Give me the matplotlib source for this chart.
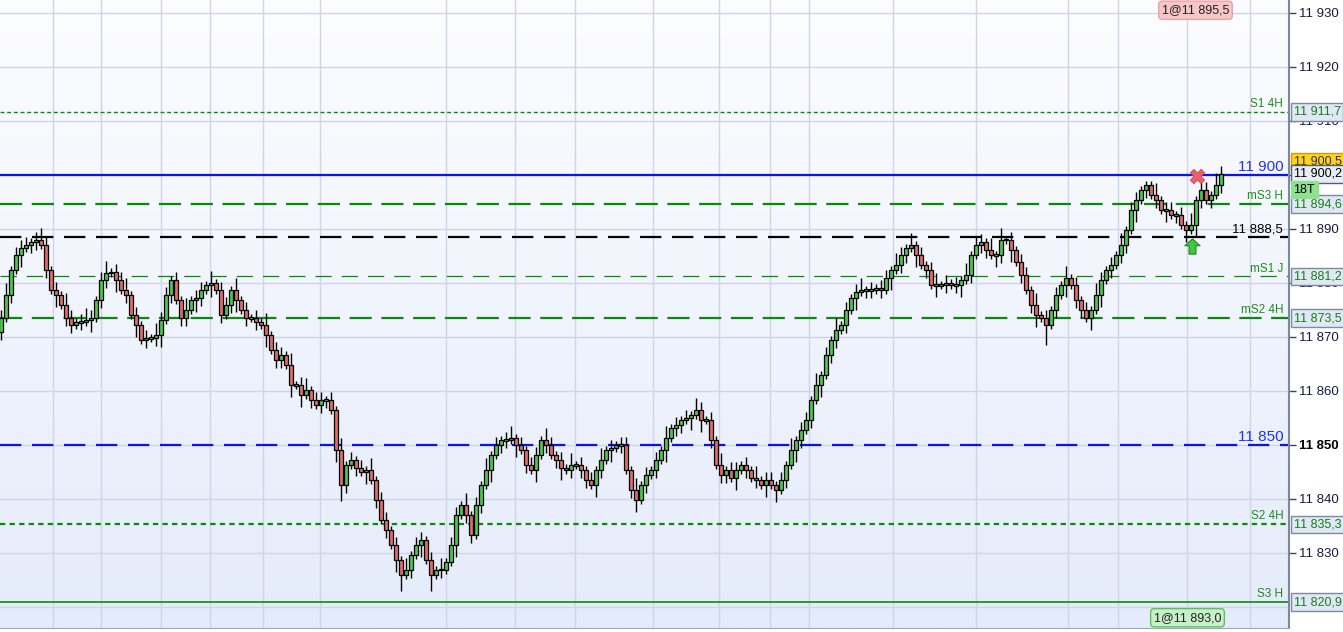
import numpy as np
import matplotlib
matplotlib.use("Agg")
import matplotlib.pyplot as plt
from matplotlib.path import Path
from matplotlib.transforms import blended_transform_factory
from matplotlib.colors import LinearSegmentedColormap

plt.rcParams['font.family'] = ['Liberation Sans', 'DejaVu Sans']

# closing prices, one per candle (open = previous close)
close = [11873.5, 11877.8, 11882.4, 11885.2, 11886.5, 11887.0, 11887.6, 11888.0, 11887.0, 11882.4,
         11878.7, 11877.8, 11875.9, 11873.5, 11872.2, 11872.8, 11872.8, 11873.2, 11873.5, 11876.9,
         11880.6, 11881.9, 11882.0, 11880.6, 11878.7, 11877.8, 11874.1, 11872.2, 11869.4, 11869.8,
         11869.8, 11870.4, 11873.2, 11877.8, 11880.6, 11876.9, 11873.5, 11875.0, 11876.9, 11877.2,
         11878.7, 11879.6, 11880.0, 11878.7, 11874.1, 11875.9, 11878.7, 11876.9, 11875.0, 11873.5,
         11873.5, 11872.8, 11872.2, 11870.4, 11867.6, 11865.7, 11866.7, 11864.8, 11861.1, 11861.1,
         11859.3, 11860.2, 11858.3, 11857.4, 11858.3, 11858.3, 11856.5, 11849.1, 11842.6, 11846.3,
         11847.2, 11845.7, 11845.0, 11845.4, 11843.5, 11839.8, 11836.1, 11834.3, 11831.5, 11828.7,
         11825.9, 11826.9, 11829.6, 11831.5, 11832.4, 11828.7, 11825.9, 11826.9, 11826.9, 11828.3,
         11831.5, 11837.0, 11838.9, 11837.0, 11833.3, 11838.9, 11842.6, 11845.4, 11848.1, 11850.0,
         11850.9, 11850.9, 11851.3, 11850.0, 11849.1, 11846.3, 11845.4, 11848.1, 11850.9, 11850.0,
         11848.1, 11847.2, 11845.7, 11845.4, 11846.3, 11846.3, 11845.4, 11843.5, 11842.6, 11845.4,
         11847.2, 11849.1, 11849.4, 11850.0, 11850.0, 11845.4, 11841.7, 11839.8, 11842.6, 11844.4,
         11845.4, 11847.2, 11849.1, 11851.3, 11853.1, 11853.7, 11854.6, 11855.0, 11855.6, 11856.5,
         11854.6, 11854.6, 11850.9, 11846.3, 11844.4, 11845.4, 11843.9, 11845.4, 11846.3, 11845.4,
         11843.9, 11843.5, 11842.6, 11843.5, 11842.6, 11841.7, 11843.5, 11846.3, 11849.1, 11850.9,
         11852.8, 11854.6, 11858.3, 11861.1, 11863.0, 11866.7, 11869.4, 11871.3, 11872.2, 11875.0,
         11877.2, 11878.3, 11878.7, 11878.7, 11878.7, 11879.1, 11878.7, 11880.9, 11882.4, 11883.3,
         11885.2, 11886.5, 11887.0, 11885.2, 11883.3, 11882.4, 11879.6, 11879.6, 11879.6, 11880.0,
         11879.6, 11879.6, 11880.6, 11881.5, 11885.2, 11887.0, 11887.6, 11886.1, 11885.2, 11885.2,
         11888.0, 11888.0, 11886.1, 11883.9, 11881.5, 11878.7, 11875.9, 11874.1, 11873.5, 11872.2,
         11875.0, 11877.8, 11879.6, 11880.9, 11879.6, 11876.9, 11875.0, 11873.5, 11875.0, 11877.8,
         11880.6, 11882.4, 11883.3, 11885.2, 11887.0, 11889.8, 11893.5, 11895.4, 11897.2, 11898.1,
         11896.3, 11895.4, 11893.5, 11893.5, 11892.6, 11892.6, 11890.7, 11889.8, 11890.7, 11895.4,
         11897.2, 11895.4, 11896.3, 11898.1, 11900.2]
first_open = 11871.0

# wick lengths, one digit per candle (unit = 0.75 point)
upper_wick = ("2312221232" "1213212321" "2312231212" "1322121312" "2131221312" "1213122131"
              "2312212131" "2121312212" "1312212131" "2213121312" "1231212213" "2121312121"
              "3121221312" "1213121213" "2121312212" "1312212131" "2213121312" "1231212213"
              "2131212312" "1213122131" "3121221312" "1213121213" "2121312211" "1312212131" "22132")
lower_wick = ("2121312212" "1312212131" "2213121312" "1231212213" "2131212312" "1213122131"
              "3121221342" "1213121213" "4121314121" "1312212131" "2213121312" "1231212213"
              "2131212312" "1213122131" "3121221312" "1213131213" "2121312212" "1312212131"
              "2213121312" "1231212213" "2131212315" "1213122131" "3121221312" "1213121313" "21212")

# horizontal levels: price, label, colour, width, dash
levels = [
    (11911.7, "S1 4H", "#0a8a0a", 1.0, (0, (2.9, 1.9))),
    (11894.6, "mS3 H", "#0a8a0a", 1.6, (0, (10, 4.3))),
    (11881.2, "mS1 J", "#0a8a0a", 0.9, (0, (13, 8))),
    (11873.5, "mS2 4H", "#0a8a0a", 1.6, (0, (10, 4.3))),
    (11835.3, "S2 4H", "#0a8a0a", 1.6, (0, (2.4, 1.9))),
    (11820.9, "S3 H", "#0a8a0a", 1.2, "-"),
]
round_levels = [(11900.0, "11 900", "-"), (11850.0, "11 850", (0, (9.6, 4.8)))]
pivot_level = 11888.5
last_price = 11900.2
ask_price = 11900.5
grid_times = [10.4, 20, 32, 41.8, 52.4, 63.8, 89, 102.8, 114.8, 130.4, 143.6, 153.8,
              161.6, 178.4, 195, 213.4, 223.4, 237.2, 249.8]
sell_fill = (239.2, 11899.8, "1@11 895,5")
buy_fill = (238.2, 11888.0, "1@11 893,0")


def fmt(v, dec=False):
    if dec:
        s = f"{v:.1f}".replace(".", ",")
        return s[:2] + " " + s[2:]
    v = int(round(v))
    return f"{v // 1000} {v % 1000:03d}"


fig = plt.figure(figsize=(13.43, 6.32), dpi=100)
fig.patch.set_facecolor("white")
ax = fig.add_axes([0, 4 / 632, 1289 / 1343, 628 / 632])

x0, x1 = -0.2, 1289 / 5 - 0.2
y0, y1 = 11816.1, 11932.4
ax.set_xlim(x0, x1)
ax.set_ylim(y0, y1)

# background gradient, light blue at the bottom to white at the top
grad = np.linspace(0, 1, 256).reshape(-1, 1)
cmap = LinearSegmentedColormap.from_list("bg", ["#e4ebfa", "#fdfdff"])
ax.imshow(grad, extent=[x0, x1, y0, y1], origin="lower", aspect="auto", cmap=cmap, zorder=0)

# grid
for t in grid_times:
    ax.axvline(t, color="#cfd4e6", lw=1, zorder=1)
for p in range(11820, 11931, 10):
    ax.axhline(p, color="#cfd4e6", lw=1, zorder=1)

# levels
yx = blended_transform_factory(ax.transAxes, ax.transData)
for price, label, col, lw, ls in levels:
    ax.axhline(price, color=col, lw=lw, ls=ls, zorder=2)
    ax.text(0.9955, price + 0.35, label, transform=yx, ha="right", va="bottom",
            color="#1c8c1c", fontsize=8.5, zorder=5)
    ax.text(1.0035, price, fmt(price, True), transform=yx, ha="left", va="center",
            color="#1c7c1c", fontsize=9, zorder=6, clip_on=False,
            bbox=dict(boxstyle="square,pad=0.22", fc="#dfe8f3", ec="#7d8c9c", lw=1))
for price, label, ls in round_levels:
    ax.axhline(price, color="#0a14f0", lw=1.6, ls=ls, zorder=2)
    ax.text(0.9955, price + 0.2, label, transform=yx, ha="right", va="bottom",
            color="#2030ff", fontsize=11, zorder=5)
ax.axhline(pivot_level, color="black", lw=1.6, ls=(0, (9.6, 4.8)), zorder=2)
ax.text(0.9955, pivot_level + 0.2, fmt(pivot_level, True), transform=yx, ha="right",
        va="bottom", color="black", fontsize=9.5, zorder=5)

# candles
opens = [first_open] + close[:-1]
for i, (o, c) in enumerate(zip(opens, close)):
    hi = max(o, c) + int(upper_wick[i]) * 0.75
    lo = min(o, c) - int(lower_wick[i]) * 0.75
    ax.vlines(i, lo, hi, color="black", lw=1, zorder=3)
    h = max(abs(c - o), 0.25)
    b = min(o, c) if abs(c - o) >= 0.25 else (o + c) / 2 - 0.125
    col = "#4cc94c" if c >= o else "#e36b6b"
    ax.bar(i, h, bottom=b, width=0.68, color=col, edgecolor="black", lw=0.9, zorder=4)

# fill markers
ax.scatter([sell_fill[0]], [sell_fill[1]], marker="X", s=110, color="#e8606a",
           edgecolor="#d04050", lw=0.5, zorder=7)
arrow = Path([(0, 1), (1, 0.1), (0.45, 0.1), (0.45, -1), (-0.45, -1), (-0.45, 0.1),
              (-1, 0.1), (0, 1)])
ax.plot([buy_fill[0]], [buy_fill[1] - 1.1], marker=arrow, ms=11, color="#3ec83e",
        mec="#1a8a1a", mew=0.8, zorder=7)
ax.text(sell_fill[0] - 0.3, 11930.5, sell_fill[2], ha="center", va="center", fontsize=9,
        color="#222", zorder=8,
        bbox=dict(boxstyle="round,pad=0.25,rounding_size=0.3", fc="#f6c6c8", ec="#e8a4a8"))
ax.text(buy_fill[0] - 0.9, 11818.0, buy_fill[2], ha="center", va="center", fontsize=9,
        color="#222", zorder=8,
        bbox=dict(boxstyle="round,pad=0.25,rounding_size=0.3", fc="#c8f0c8", ec="#5cc05c"))

# price boxes on the axis
ax.text(1.0035, ask_price + 1.9, fmt(ask_price, True), transform=yx, ha="left", va="center",
        color="#333", fontsize=9, zorder=6, clip_on=False,
        bbox=dict(boxstyle="square,pad=0.22", fc="#ffd21e", ec="#c8a000", lw=1))
ax.text(1.0035, last_price, fmt(last_price, True), transform=yx, ha="left", va="center",
        color="black", fontsize=9, zorder=7, clip_on=False,
        bbox=dict(boxstyle="square,pad=0.22", fc="#e6edf6", ec="#55606c", lw=1))
ax.text(1.0035, last_price - 2.9, "18T", transform=yx, ha="left", va="center",
        color="black", fontsize=9, zorder=7, clip_on=False,
        bbox=dict(boxstyle="square,pad=0.22", fc="#8fe08f", ec="#8fe08f", lw=1))

# axis
ax.set_xticks([])
ax.yaxis.tick_right()
ticks = list(range(11830, 11931, 10))
ax.set_yticks(ticks)
ax.set_yticklabels([fmt(t) for t in ticks])
ax.tick_params(axis="y", direction="out", length=5, width=1, color="#444", labelsize=9.5,
               labelcolor="#1a1a40", pad=2)
for lab in ax.get_yticklabels():
    if lab.get_text() == "11 850":
        lab.set_fontweight("bold")
        lab.set_color("black")
for side in ["top", "left"]:
    ax.spines[side].set_visible(False)
ax.spines["right"].set_color("#7a8a9a")
ax.spines["right"].set_linewidth(1.5)
ax.spines["bottom"].set_color("#a0a8b8")

fig.savefig("out.png", dpi=100)
